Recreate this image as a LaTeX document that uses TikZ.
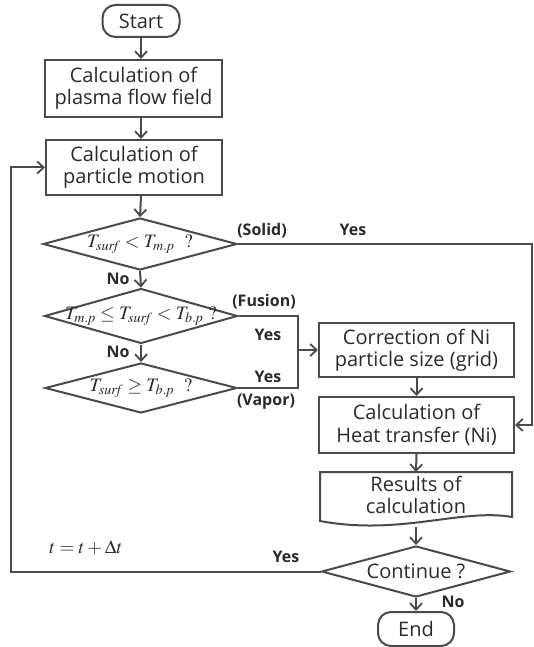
\documentclass[tikz,border=0pt]{standalone}
\usepackage{mathptmx}
\usepackage{fontspec}
\setmainfont{Open Sans}
\usetikzlibrary{shapes.geometric,arrows.meta}
\definecolor{lc}{HTML}{4A4A4A}
\definecolor{tc}{HTML}{2A2A2A}
\begin{document}
\begin{tikzpicture}[x=1pt,y=-1pt,
  line/.style={draw=lc, line width=2pt},
  arr/.style={line, -{Straight Barb[length=6.5pt,width=12pt,line width=1.8pt]}},
  box/.style={draw=lc, line width=2pt, rectangle, inner sep=0pt, align=center,
    font=\fontsize{20}{22.5}\selectfont, text=tc},
  term/.style={box, rounded corners=13pt},
  dec/.style={draw=lc, line width=2pt, diamond, inner sep=0pt},
  lab/.style={font=\bfseries\fontsize{16}{18}\selectfont, text=tc, inner sep=0pt},
  mth/.style={font=\fontsize{19}{21}\selectfont, text=tc, inner sep=0pt},
]
\useasboundingbox (0,0) rectangle (534,647);

% left column
\node[term, minimum width=77pt, minimum height=32pt] (start) at (141,21) {Start};
\node[box, minimum width=177pt, minimum height=57pt] (flow) at (133.5,88.5) {Calculation of\\plasma flow field};
\node[box, minimum width=176pt, minimum height=55pt] (motion) at (134,167.5) {Calculation of\\particle motion};
\node[dec, minimum width=194pt, minimum height=52pt,
  label={[mth]center:$T_{\mathit{surf}} < T_{\mathit{m.p}}\ \ ?$}] (d1) at (140,244) {};
\node[dec, minimum width=193pt, minimum height=55pt,
  label={[mth]center:$T_{\mathit{m.p}} \le T_{\mathit{surf}} < T_{\mathit{b.p}}\ ?$}] (d2) at (141,316) {};
\node[dec, minimum width=192pt, minimum height=50pt,
  label={[mth]center:$T_{\mathit{surf}} \ge T_{\mathit{b.p}}\ \ ?$}] (d3) at (141,388) {};

% right column
\node[box, minimum width=195pt, minimum height=54pt] (corr) at (416.5,350) {Correction of Ni\\particle size (grid)};
\node[box, minimum width=195pt, minimum height=56pt] (heat) at (416.5,425) {Calculation of\\Heat transfer (Ni)};
\node[align=center, font=\fontsize{20}{22.5}\selectfont, text=tc, inner sep=0pt] (res) at (416,495) {Results of\\calculation};
\draw[line] (320,521) -- (320,472) -- (512,472) -- (512,517)
  .. controls (462,508) and (400,536) .. (320,521) -- cycle;
\coordinate (rest) at (416,472);
\coordinate (resb) at (416,527);
\node[dec, minimum width=189pt, minimum height=51pt,
  label={[font=\fontsize{20}{22}\selectfont, text=tc]center:Continue ?}] (cont) at (416,571.5) {};
\node[term, minimum width=76pt, minimum height=34pt] (end) at (416,629) {End};

% main flow
\draw[arr] (start.south) -- (start.south |- flow.north);
\draw[arr] (start.south |- flow.south) -- (start.south |- motion.north);
\draw[arr] (start.south |- motion.south) -- (d1.north);
\draw[arr] (d1.south) -- (d2.north);
\draw[arr] (d2.south) -- (d3.north);
\draw[arr] (corr.south) -- (heat.north);
\draw[arr] (heat.south) -- (rest);
\draw[arr] (resb) -- (cont.north);
\draw[arr] (cont.south) -- (end.north);

% solid branch
\coordinate (sr) at (532,244);
\draw[arr] (d1.east) -- (sr) |- (heat.east);

% fusion / vapor branch
\coordinate (fv) at (298,316);
\coordinate (fj) at (298,350);
\draw[line] (d2.east) -- (fv) -- (fv |- d3.east) -- (d3.east);
\draw[arr] (fj) -- (corr.west);

% feedback loop
\coordinate (fb) at (11,571.5);
\draw[arr] (cont.west) -- (fb) |- (motion.west);

% labels
\node[lab] (lsolid) at (262,231) {(Solid)};
\node[lab] (lyes1) at (353,230) {Yes};
\node[lab] (lno1) at (118,279) {No};
\node[lab] (lno2) at (118,352) {No};
\node[lab] (lfus) at (264,302) {(Fusion)};
\node[lab] (lyes2) at (268,335) {Yes};
\node[lab] (lyes3) at (268,377) {Yes};
\node[lab] (lvap) at (266,402) {(Vapor)};
\node[mth] (ldt) at (86,548) {$t = t + \Delta t$};
\node[lab] (lyes4) at (286,557) {Yes};
\node[lab] (lno3) at (453,602) {No};
\end{tikzpicture}
\end{document}
